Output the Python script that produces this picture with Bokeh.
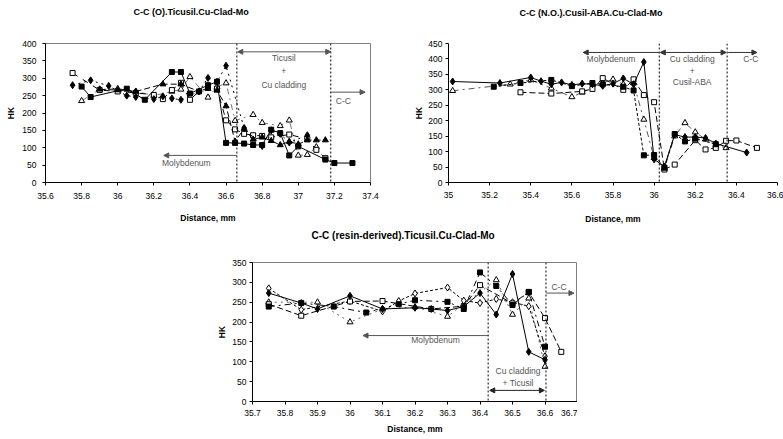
from bokeh.plotting import figure
from bokeh.models import Range1d, FixedTicker, CustomJSTickFormatter, Span, Label, Arrow, NormalHead, Spacer, Title
from bokeh.layouts import column, row
from bokeh.embed import file_html
from bokeh.resources import INLINE

# ---------------- data ----------------
# Chart 1: C-C (O).Ticusil.Cu-Clad-Mo
c1_diamond_x = [35.75, 35.85, 35.95, 36.05, 36.1, 36.2, 36.25, 36.3, 36.35, 36.45, 36.5, 36.55, 36.6, 36.7, 36.8, 36.85, 36.9, 36.95, 37.05]
c1_diamond_y = [280, 294, 278, 250, 246, 240, 248, 242, 238, 262, 301, 290, 336, 157, 105, 150, 140, 115, 136]
c1_fsquare_x = [35.8, 35.85, 36.05, 36.15, 36.3, 36.35, 36.4, 36.5, 36.55, 36.6, 36.65, 36.7, 36.75, 36.8, 36.85, 36.9, 36.95, 37.0, 37.15, 37.2, 37.3]
c1_fsquare_y = [276, 246, 270, 238, 318, 318, 256, 280, 290, 114, 114, 112, 108, 108, 152, 142, 78, 104, 66, 56, 56]
c1_osquare_x = [35.75, 35.9, 36.0, 36.1, 36.2, 36.25, 36.3, 36.35, 36.4, 36.45, 36.5, 36.55, 36.6, 36.65, 36.7, 36.75, 36.8, 36.85, 36.95, 37.05, 37.1, 37.15]
c1_osquare_y = [315, 266, 262, 258, 252, 240, 266, 287, 238, 262, 272, 270, 179, 153, 140, 136, 134, 130, 138, 125, 94, 70]
c1_otri_x = [35.8, 35.9, 36.0, 36.1, 36.2, 36.3, 36.35, 36.4, 36.5, 36.55, 36.6, 36.65, 36.75, 36.8, 36.9, 36.95, 37.0, 37.05, 37.1]
c1_otri_y = [235, 268, 270, 262, 250, 262, 268, 304, 245, 275, 286, 178, 195, 172, 163, 179, 78, 80, 102]
c1_ftri_x = [35.9, 36.0, 36.1, 36.25, 36.35, 36.45, 36.5, 36.55, 36.6, 36.65, 36.7, 36.75, 36.8, 36.85, 36.9, 36.95, 37.0, 37.05, 37.1, 37.15]
c1_ftri_y = [268, 266, 262, 283, 283, 262, 270, 265, 220, 118, 155, 124, 130, 120, 108, 118, 110, 122, 122, 122]

# Chart 2: C-C (N.O.).Cusil-ABA.Cu-Clad-Mo
c2_diamond_x = [35.02, 35.25, 35.4, 35.45, 35.5, 35.55, 35.6, 35.65, 35.7, 35.75, 35.8, 35.85, 35.9, 35.95, 36.0, 36.05, 36.1, 36.15, 36.2, 36.25, 36.3, 36.45]
c2_diamond_y = [327, 322, 340, 328, 318, 324, 316, 320, 318, 313, 320, 337, 318, 390, 75, 52, 155, 147, 147, 144, 126, 97]
c2_fsquare_x = [35.22, 35.35, 35.5, 35.6, 35.7, 35.75, 35.85, 35.9, 35.95, 36.0, 36.05, 36.1, 36.15, 36.2, 36.3]
c2_fsquare_y = [310, 322, 332, 312, 322, 318, 310, 298, 88, 89, 48, 157, 133, 142, 124]
c2_osquare_x = [35.35, 35.5, 35.65, 35.7, 35.75, 35.85, 35.9, 35.95, 36.0, 36.05, 36.1, 36.2, 36.25, 36.3, 36.35, 36.4, 36.5]
c2_osquare_y = [292, 288, 295, 303, 338, 300, 334, 283, 260, 42, 58, 137, 107, 112, 135, 136, 112]
c2_otri_x = [35.02, 35.3, 35.4, 35.5, 35.6, 35.65, 35.75, 35.8, 35.85, 35.9, 35.95, 36.0, 36.05, 36.1, 36.15, 36.2, 36.25, 36.3, 36.35]
c2_otri_y = [297, 318, 332, 305, 277, 292, 322, 334, 318, 322, 204, 80, 45, 150, 193, 163, 140, 120, 112]

# Chart 3: C-C (resin-derived).Ticusil.Cu-Clad-Mo
c3_diamond_x = [35.75, 35.85, 35.9, 36.0, 36.1, 36.2, 36.25, 36.3, 36.35, 36.4, 36.45, 36.5, 36.55, 36.6]
c3_diamond_y = [273, 248, 233, 266, 233, 236, 233, 229, 239, 273, 219, 321, 125, 105]
c3_fsquare_x = [35.75, 35.85, 35.95, 36.05, 36.15, 36.2, 36.3, 36.35, 36.4, 36.45, 36.5, 36.55, 36.6]
c3_fsquare_y = [239, 248, 239, 224, 245, 255, 251, 233, 325, 291, 243, 276, 138]
c3_osquare_x = [35.75, 35.85, 36.0, 36.1, 36.25, 36.35, 36.4, 36.5, 36.55, 36.6, 36.65]
c3_osquare_y = [245, 216, 252, 253, 233, 240, 293, 247, 275, 210, 125]
c3_otri_x = [35.75, 35.9, 36.0, 36.1, 36.2, 36.3, 36.35, 36.45, 36.5, 36.55, 36.6]
c3_otri_y = [250, 250, 200, 233, 238, 214, 245, 306, 219, 260, 88]
c3_odiamond_x = [35.75, 35.85, 36.0, 36.1, 36.15, 36.2, 36.3, 36.35, 36.4, 36.45, 36.5, 36.55, 36.6]
c3_odiamond_y = [285, 231, 253, 227, 253, 272, 287, 254, 248, 258, 250, 240, 114]

c1_xticks = [35.6, 35.8, 36.0, 36.2, 36.4, 36.6, 36.8, 37.0, 37.2, 37.4]
c1_yticks = [0, 50, 100, 150, 200, 250, 300, 350, 400]
c2_xticks = [35.0, 35.2, 35.4, 35.6, 35.8, 36.0, 36.2, 36.4, 36.6]
c2_yticks = [0, 50, 100, 150, 200, 250, 300, 350, 400, 450]
c3_xticks = [35.7, 35.8, 35.9, 36.0, 36.1, 36.2, 36.3, 36.4, 36.5, 36.6, 36.7]
c3_yticks = [0, 50, 100, 150, 200, 250, 300, 350]

titles = ["C-C (O).Ticusil.Cu-Clad-Mo", "C-C (N.O.).Cusil-ABA.Cu-Clad-Mo", "C-C (resin-derived).Ticusil.Cu-Clad-Mo"]

FONT = "'Liberation Sans', Arial, sans-serif"
NARROW = "'Liberation Sans Narrow', 'Arial Narrow', 'Liberation Sans', sans-serif"
GRAY = "#555555"

fmt = CustomJSTickFormatter(code="return (Math.round(tick*100)/100).toString();")


def make_fig(w, h, xr, yr, xticks, yticks, left, right, top, bottom, outline,
             ylab_standoff, xtick_standoff, xlab_standoff, ytick_standoff,
             title, title_lh, title_offset, title_size):
    p = figure(width=w, height=h, x_range=Range1d(*xr), y_range=Range1d(*yr),
               output_backend="svg", toolbar_location=None, title=None,
               min_border_left=left, min_border_right=right,
               min_border_top=top, min_border_bottom=bottom)
    p.xgrid.visible = False
    p.ygrid.visible = False
    p.outline_line_color = "#808080" if outline else None
    p.xaxis.ticker = FixedTicker(ticks=xticks)
    p.yaxis.ticker = FixedTicker(ticks=yticks)
    p.xaxis.formatter = fmt
    for ax in (p.xaxis[0], p.yaxis[0]):
        ax.axis_line_color = "black"
        ax.major_tick_line_color = "black"
        ax.major_tick_out = 3
        ax.major_tick_in = 0
        ax.minor_tick_line_color = None
        ax.major_label_text_font = FONT
        ax.major_label_text_font_size = "8.5px"
        ax.major_label_text_color = "black"
        ax.axis_label_text_font = FONT
        ax.axis_label_text_font_size = "8.5px"
        ax.axis_label_text_font_style = "bold"
        ax.axis_label_text_color = "black"
    p.xaxis.major_label_standoff = xtick_standoff
    p.yaxis.major_label_standoff = ytick_standoff
    p.xaxis.axis_label = "Distance, mm"
    p.xaxis.axis_label_standoff = xlab_standoff
    p.yaxis.axis_label = "HK"
    p.yaxis.axis_label_standoff = ylab_standoff
    # a second, blank line keeps the title well above the plot frame
    p.add_layout(Title(text=title + "\n ", align="left", offset=title_offset, text_font=FONT,
                       text_font_size=title_size, text_font_style="bold", text_color="black",
                       standoff=0, text_line_height=title_lh), "above")
    return p


def series(p, xs, ys, marker, filled, dash, size, line_color="black"):
    p.line(xs, ys, line_color=line_color, line_width=1, line_dash=dash)
    p.scatter(xs, ys, marker=marker, size=size, line_color="black", line_width=1,
              fill_color="black" if filled else "white")


def text(p, x, y, t, size="8.5px", color=GRAY, font=NARROW):
    p.add_layout(Label(x=x, y=y, text=t, text_align="center", text_baseline="middle",
                       text_font=font, text_font_size=size, text_color=color))


def arrow(p, x0, x1, y, color=GRAY, both=False):
    p.add_layout(Arrow(x_start=x0, y_start=y, x_end=x1, y_end=y, line_color=color, line_width=1,
                       end=NormalHead(size=5, fill_color=color, line_color=color),
                       start=NormalHead(size=5, fill_color=color, line_color=color) if both else None))


def vdash(p, x):
    p.add_layout(Span(location=x, dimension="height", line_color="black", line_width=1, line_dash="2 2"))


# ---------------- chart 1 ----------------
p1 = make_fig(410, 226, (35.6, 37.4), (0, 400), c1_xticks, c1_yticks, 45, 40, 43, 41, True,
              3, 7, 11, 6, titles[0], 2.65, 88, "9px")
vdash(p1, 36.66)
vdash(p1, 37.18)
series(p1, c1_otri_x, c1_otri_y, "triangle", False, "dashdot", 6, "#777777")
series(p1, c1_osquare_x, c1_osquare_y, "square", False, "dashed", 5)
series(p1, c1_ftri_x, c1_ftri_y, "triangle", True, "6 3", 6)
series(p1, c1_diamond_x, c1_diamond_y, "diamond", True, "dotted", 7)
series(p1, c1_fsquare_x, c1_fsquare_y, "square", True, "solid", 5)
arrow(p1, 37.18, 36.665, 376, both=True)
text(p1, 36.92, 358, "Ticusil")
text(p1, 36.92, 320, "+")
text(p1, 36.92, 282, "Cu cladding")
arrow(p1, 37.18, 37.37, 260)
text(p1, 37.25, 235, "C-C")
arrow(p1, 36.66, 36.255, 78)
text(p1, 36.38, 56, "Molybdenum")

# ---------------- chart 2 ----------------
p2 = make_fig(373, 226, (35.0, 36.6), (0, 450), c2_xticks, c2_yticks, 38, 6, 40, 43, False,
              1, 6, 13, 3, titles[1], 2.55, 71, "9px")
vdash(p2, 36.025)
vdash(p2, 36.355)
series(p2, c2_otri_x, c2_otri_y, "triangle", False, "dashdot", 6, "#555555")
series(p2, c2_osquare_x, c2_osquare_y, "square", False, "6 3", 5)
series(p2, c2_fsquare_x, c2_fsquare_y, "square", True, "3 2", 5)
series(p2, c2_diamond_x, c2_diamond_y, "diamond", True, "solid", 7)
arrow(p2, 36.025, 35.655, 421, color="#333333")
arrow(p2, 36.03, 36.35, 421, color="#333333", both=True)
arrow(p2, 36.36, 36.50, 421, color="#333333")
text(p2, 35.79, 400, "Molybdenum")
text(p2, 36.185, 400, "Cu cladding")
text(p2, 36.185, 361, "+")
text(p2, 36.185, 324, "Cusil-ABA")
text(p2, 36.47, 400, "C-C")

# ---------------- chart 3 ----------------
p3 = make_fig(363, 210, (35.7, 36.7), (0, 350), c3_xticks, c3_yticks, 34, 0, 36, 35, True,
              2, 5, 5, 3, titles[2], 2.0, 59, "10px")
vdash(p3, 36.425)
vdash(p3, 36.603)
series(p3, c3_otri_x, c3_otri_y, "triangle", False, "dotted", 6, "#666666")
series(p3, c3_odiamond_x, c3_odiamond_y, "diamond", False, "3 2", 7)
series(p3, c3_osquare_x, c3_osquare_y, "square", False, "6 3", 5)
series(p3, c3_fsquare_x, c3_fsquare_y, "square", True, "dashdot", 5)
series(p3, c3_diamond_x, c3_diamond_y, "diamond", True, "solid", 7)
arrow(p3, 36.425, 36.04, 166)
text(p3, 36.263, 154, "Molybdenum")
arrow(p3, 36.43, 36.598, 28, color="#222222", both=True)
text(p3, 36.517, 76, "Cu cladding")
text(p3, 36.517, 47, "+ Ticusil")
arrow(p3, 36.603, 36.689, 273)
text(p3, 36.643, 289, "C-C")

layout = column(row(p1, p2), row(Spacer(width=214, height=210), p3))

open("out.html", "w").write(file_html(layout, INLINE))
